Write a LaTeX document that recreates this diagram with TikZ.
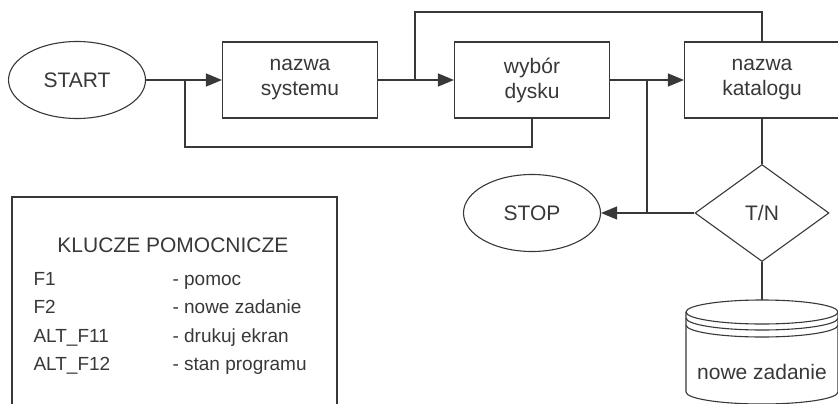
\documentclass[tikz,border=0pt]{standalone}
\usepackage{fontspec}
\setmainfont{Liberation Sans}
\usetikzlibrary{shapes.geometric,arrows.meta}

\begin{document}
\begin{tikzpicture}[x=1pt,y=-1pt,color=black!78,line width=1.1pt,
  every node/.style={font=\fontsize{21}{25}\selectfont},
  box/.style={draw,minimum width=155pt,minimum height=76pt,align=center,inner sep=0pt},
  oval/.style={draw,ellipse,minimum width=137pt,minimum height=77pt,inner sep=0pt},
  choice/.style={draw,diamond,aspect=1.4,minimum width=134pt,minimum height=97pt,inner sep=0pt},
  arr/.style={-{Triangle[length=16pt,width=13pt]}},
  row/.style={anchor=base west,inner sep=0pt,font=\fontsize{19}{23}\selectfont}]

\useasboundingbox (0,0) rectangle (838,404);
\clip (0,0) rectangle (838,404);

\node[oval] (start) at (77,80) {START};
\node[box] (sys) at (300,80) {nazwa\\systemu};
\node[box] (dysk) at (532,80) {wybór\\dysku};
\node[box] (kat) at (762,80) {nazwa\\katalogu};
\node[choice] (tn) at (762,213) {T/N};
\node[oval] (stop) at (532,213) {STOP};

\coordinate (j1) at (185,80);
\coordinate (l1) at (185,147);
\coordinate (j2) at (415,80);
\coordinate (t1) at (762,12);
\coordinate (j3) at (647,80);
\coordinate (j4) at (647,213);
\coordinate (dtop) at (762,300);

\draw[arr] (start) to (sys);
\draw[arr] (sys) to (dysk);
\draw[arr] (dysk) to (kat);
\draw (dysk.south) |- (l1) to (j1);
\draw (j2) |- (t1) to (kat);
\draw (kat) to (tn);
\draw[arr] (tn) to (stop);
\draw (j3) to (j4);
\draw (tn) to (dtop);

% dysk
\draw (762,312) ellipse [x radius=76,y radius=12];
\draw (686,318) arc [start angle=180,end angle=0,x radius=76,y radius=12];
\draw (686,325) arc [start angle=180,end angle=0,x radius=76,y radius=12];
\draw (686,312) to (686,392) arc [start angle=180,end angle=0,x radius=76,y radius=12] to (838,312);
\node (zad) at (762,372) {nowe zadanie};

% klucze
\node[draw,minimum width=325pt,minimum height=240pt,inner sep=0pt] (leg) at (174.5,317) {};
\node[anchor=base,inner sep=0pt] (tyt) at (173,252) {KLUCZE POMOCNICZE};
\node[row] (k1) at (33,285) {F1};
\node[row] (k2) at (33,313) {F2};
\node[row] (k3) at (33,342) {ALT\_F11};
\node[row] (k4) at (33,370) {ALT\_F12};
\node[row] (o1) at (172,285) {- pomoc};
\node[row] (o2) at (172,313) {- nowe zadanie};
\node[row] (o3) at (172,342) {- drukuj ekran};
\node[row] (o4) at (172,370) {- stan programu};

\end{tikzpicture}
\end{document}
